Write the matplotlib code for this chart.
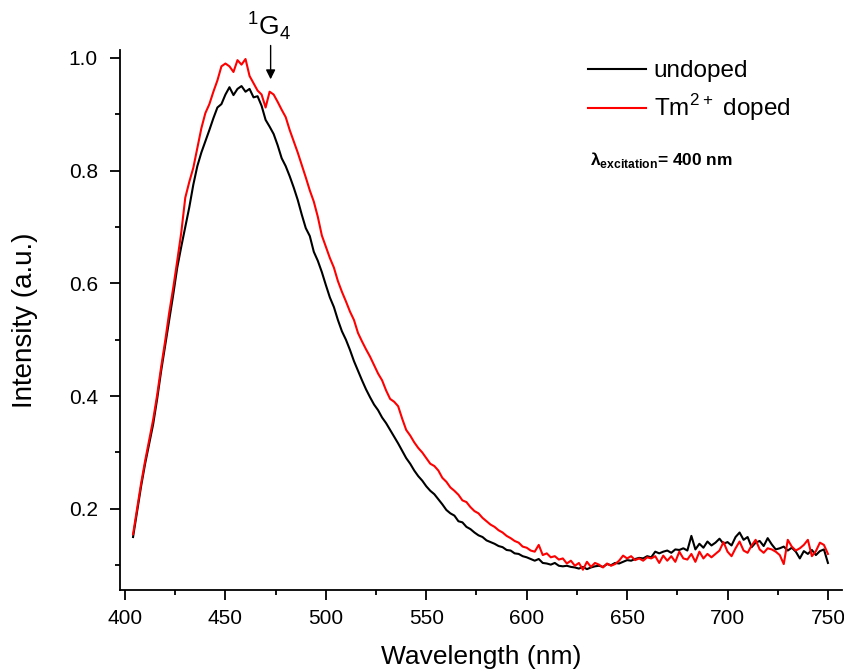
import numpy as np
import matplotlib
matplotlib.use("Agg")
import matplotlib.pyplot as plt
from matplotlib.ticker import MultipleLocator, FormatStrFormatter

plt.rcParams['font.family'] = ['Liberation Sans', 'DejaVu Sans']
plt.rcParams['mathtext.fontset'] = 'custom'
plt.rcParams['mathtext.rm'] = 'Liberation Sans'
plt.rcParams['mathtext.bf'] = 'Liberation Sans:bold'

# Emission spectra sampled every 2 nm from 404 to 750 nm
wavelength = np.arange(404, 751, 2)

undoped = [
    0.150, 0.195, 0.240, 0.280, 0.315, 0.350, 0.395, 0.445, 0.490, 0.535,
    0.580, 0.628, 0.665, 0.700, 0.735, 0.775, 0.808, 0.832, 0.852, 0.872,
    0.893, 0.912, 0.918, 0.935, 0.948, 0.934, 0.945, 0.950, 0.940, 0.945,
    0.930, 0.932, 0.915, 0.890, 0.878, 0.865, 0.845, 0.822, 0.808, 0.790,
    0.770, 0.748, 0.722, 0.698, 0.684, 0.656, 0.640, 0.620, 0.597, 0.575,
    0.558, 0.535, 0.515, 0.500, 0.482, 0.462, 0.445, 0.428, 0.412, 0.398,
    0.385, 0.375, 0.362, 0.352, 0.340, 0.328, 0.316, 0.303, 0.290, 0.280,
    0.268, 0.258, 0.250, 0.240, 0.232, 0.226, 0.217, 0.208, 0.198, 0.192,
    0.188, 0.178, 0.176, 0.168, 0.164, 0.158, 0.153, 0.150, 0.144, 0.141,
    0.138, 0.134, 0.132, 0.127, 0.126, 0.121, 0.120, 0.116, 0.114, 0.111,
    0.108, 0.111, 0.104, 0.103, 0.101, 0.104, 0.099, 0.098, 0.099, 0.097,
    0.096, 0.094, 0.097, 0.093, 0.096, 0.098, 0.099, 0.097, 0.102, 0.100,
    0.104, 0.103, 0.106, 0.109, 0.108, 0.111, 0.113, 0.112, 0.116, 0.114,
    0.124, 0.121, 0.124, 0.126, 0.122, 0.128, 0.127, 0.130, 0.126, 0.152,
    0.128, 0.138, 0.131, 0.142, 0.135, 0.140, 0.147, 0.138, 0.141, 0.135,
    0.150, 0.158, 0.145, 0.150, 0.132, 0.140, 0.143, 0.134, 0.148, 0.137,
    0.128, 0.130, 0.133, 0.126, 0.131, 0.124, 0.112, 0.125, 0.120, 0.127,
    0.118, 0.125, 0.128, 0.104,
]

tm_doped = [
    0.155, 0.200, 0.245, 0.285, 0.322, 0.358, 0.402, 0.452, 0.498, 0.548,
    0.592, 0.640, 0.690, 0.752, 0.780, 0.805, 0.840, 0.875, 0.902, 0.918,
    0.940, 0.960, 0.985, 0.990, 0.985, 0.975, 0.996, 0.988, 0.998, 0.968,
    0.955, 0.942, 0.935, 0.912, 0.940, 0.935, 0.922, 0.908, 0.895, 0.872,
    0.852, 0.832, 0.810, 0.788, 0.765, 0.745, 0.718, 0.685, 0.665, 0.645,
    0.628, 0.604, 0.585, 0.568, 0.550, 0.535, 0.512, 0.497, 0.483, 0.470,
    0.455, 0.440, 0.428, 0.410, 0.395, 0.390, 0.382, 0.360, 0.340, 0.330,
    0.318, 0.308, 0.300, 0.290, 0.280, 0.276, 0.268, 0.255, 0.248, 0.238,
    0.232, 0.225, 0.215, 0.212, 0.203, 0.196, 0.192, 0.184, 0.178, 0.172,
    0.168, 0.162, 0.158, 0.152, 0.148, 0.143, 0.140, 0.133, 0.131, 0.126,
    0.124, 0.136, 0.118, 0.121, 0.114, 0.116, 0.110, 0.112, 0.103, 0.108,
    0.099, 0.104, 0.092, 0.106, 0.097, 0.104, 0.101, 0.096, 0.103, 0.099,
    0.102, 0.108, 0.117, 0.112, 0.116, 0.109, 0.112, 0.108, 0.114, 0.112,
    0.116, 0.104, 0.117, 0.108, 0.116, 0.106, 0.124, 0.112, 0.110, 0.120,
    0.106, 0.124, 0.112, 0.120, 0.114, 0.120, 0.126, 0.141, 0.124, 0.116,
    0.130, 0.142, 0.126, 0.122, 0.135, 0.145, 0.128, 0.122, 0.130, 0.128,
    0.124, 0.118, 0.102, 0.145, 0.133, 0.126, 0.130, 0.136, 0.145, 0.116,
    0.125, 0.140, 0.136, 0.120,
]

series_labels = ["undoped", "Tm$^{2+}$ doped"]
series_colors = ["#000000", "#ff0000"]

# 1G4 transition marker
g4_wavelength = 472.5
g4_tip = 0.962
g4_tail = 1.022

fig = plt.figure(figsize=(8.45, 6.7), dpi=100)
ax = fig.add_axes([120 / 845, 1 - 590 / 670, (842 - 120) / 845, (590 - 50) / 670])

ax.plot(wavelength, undoped, color=series_colors[0], lw=1.5, label=series_labels[0])
ax.plot(wavelength, tm_doped, color=series_colors[1], lw=1.5, label=series_labels[1])

ax.set_xlim(397.5, 757)
ax.set_ylim(0.056, 1.014)

ax.xaxis.set_major_locator(MultipleLocator(50))
ax.xaxis.set_minor_locator(MultipleLocator(25))
ax.yaxis.set_major_locator(MultipleLocator(0.2))
ax.yaxis.set_minor_locator(MultipleLocator(0.1))
ax.yaxis.set_major_formatter(FormatStrFormatter('%.1f'))

for side in ("top", "right"):
    ax.spines[side].set_visible(False)
for side in ("left", "bottom"):
    ax.spines[side].set_linewidth(1.3)

ax.tick_params(which='major', direction='out', length=7, width=1.3, labelsize=15)
ax.tick_params(which='minor', direction='out', length=3.8, width=1.3)
ax.tick_params(axis='x', which='major', pad=7)
ax.tick_params(axis='y', which='major', pad=9)

ax.set_xlabel("Wavelength (nm)", fontsize=19)
ax.set_ylabel("Intensity (a.u.)", fontsize=20)
ax.xaxis.set_label_coords(0.5, (590 - 645) / 540)
ax.yaxis.set_label_coords((38 - 120) / 722, 0.5)

leg = ax.legend(loc='upper left', bbox_to_anchor=(588 / 845, 1 - 60 / 670),
                bbox_transform=fig.transFigure, frameon=False, fontsize=17.5,
                handlelength=2.4, handletextpad=0.3, labelspacing=0.42,
                borderpad=0, borderaxespad=0)

ax.text(590 / 845, 1 - 160 / 670, r"λ$_{\mathbf{excitation}}$= 400 nm",
        transform=fig.transFigure, fontsize=12.5, fontweight='bold', va='center')

ax.annotate("", xy=(g4_wavelength, g4_tip), xytext=(g4_wavelength, g4_tail),
            arrowprops=dict(arrowstyle='-|>', color='black', lw=1.0,
                            mutation_scale=14, shrinkA=0, shrinkB=0),
            annotation_clip=False)
ax.text(g4_wavelength - 1, g4_tail + 0.006, r"$^{1}$G$_{4}$", fontsize=19,
        ha='center', va='bottom', clip_on=False)

fig.savefig("out.png", dpi=100)
